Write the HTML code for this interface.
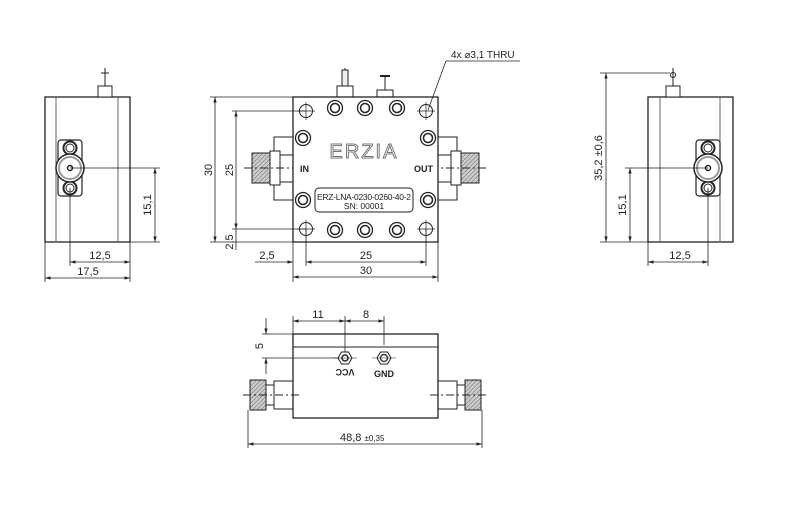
<!DOCTYPE html>
<html><head><style>html,body{margin:0;padding:0;background:#fff}svg{display:block}text{font-family:"Liberation Sans",sans-serif;fill:#222}</style></head>
<body>
<svg width="800" height="516" viewBox="0 0 800 516" xmlns="http://www.w3.org/2000/svg">
<defs>
<marker id="a" viewBox="0 0 10 10" refX="10" refY="5" markerWidth="7" markerHeight="7" orient="auto-start-reverse"><path d="M0,2 L10,5 L0,8z" fill="#222"/></marker>
<pattern id="h" width="3" height="3" patternUnits="userSpaceOnUse" patternTransform="rotate(45)"><rect width="3" height="3" fill="#ccc"/><line x1="0" y1="0" x2="0" y2="3" stroke="#666" stroke-width="1"/></pattern>
<g id="nut"><circle r="7.5" fill="#fff" stroke="#222" stroke-width="1.3"/><circle r="4.5" fill="none" stroke="#222" stroke-width="1.5"/></g>
<g id="hole"><circle r="6.5" fill="#fff" stroke="#222" stroke-width="1"/><line x1="-9" y1="0" x2="9" y2="0" stroke="#222" stroke-width=".7"/><line x1="0" y1="-9" x2="0" y2="9" stroke="#222" stroke-width=".7"/></g>
<g id="sideconn"><rect x="-12" y="-28" width="24" height="56" rx="3" fill="#fff" stroke="#222" stroke-width="1.2"/><circle cx="0" cy="-20" r="6.5" fill="#fff" stroke="#222" stroke-width="2"/><circle cx="0" cy="-20" r="4" fill="none" stroke="#222"/><circle cx="0" cy="20" r="6.5" fill="#fff" stroke="#222" stroke-width="2"/><circle cx="0" cy="20" r="4" fill="none" stroke="#222"/><circle r="14" fill="#fff" stroke="#222" stroke-width="1.5"/><circle r="11" fill="none" stroke="#999" stroke-width="2"/><circle r="2.5" fill="none" stroke="#222" stroke-width="1.5"/></g>
</defs>
<g stroke="#222" fill="none" stroke-width="1">
<!-- LEFT VIEW -->
<rect x="45" y="97" width="85" height="145" stroke-width="1.3"/>
<line x1="56" y1="97" x2="56" y2="242" stroke="#666"/><line x1="118" y1="97" x2="118" y2="242" stroke="#666"/>
<rect x="98" y="86" width="14" height="11" fill="#fff"/><line x1="105" y1="68" x2="105" y2="86"/><line x1="101" y1="73" x2="109" y2="73"/>
</g>
<use href="#sideconn" x="70" y="168"/>
<g stroke="#222" fill="none" stroke-width=".8">
<line x1="70" y1="168" x2="160" y2="168"/><line x1="130" y1="242" x2="160" y2="242"/>
<line x1="155" y1="168" x2="155" y2="242" marker-start="url(#a)" marker-end="url(#a)"/>
<line x1="70" y1="188" x2="70" y2="266"/><line x1="130" y1="242" x2="130" y2="282"/><line x1="45" y1="242" x2="45" y2="282"/>
<line x1="70" y1="262" x2="130" y2="262" marker-start="url(#a)" marker-end="url(#a)"/>
<line x1="45" y1="278" x2="130" y2="278" marker-start="url(#a)" marker-end="url(#a)"/>
</g>
<text x="151" y="205" font-size="11" transform="rotate(-90 151 205)" text-anchor="middle">15,1</text>
<text x="100" y="259" font-size="11" text-anchor="middle">12,5</text>
<text x="88" y="275" font-size="11" text-anchor="middle">17,5</text>

<!-- TOP VIEW -->
<g stroke="#222" fill="none" stroke-width="1">
<line x1="345" y1="68" x2="345" y2="88"/><rect x="342" y="70" width="6" height="16" fill="#eee"/>
<rect x="337" y="86" width="16" height="11" fill="#fff"/>
<line x1="385" y1="76" x2="385" y2="90"/><line x1="380" y1="76" x2="390" y2="76" stroke-width="2"/>
<rect x="377" y="90" width="16" height="7" fill="#fff"/>
<!-- connectors -->
<rect x="274" y="137" width="19" height="18" fill="#fff"/><rect x="274" y="182" width="19" height="18" fill="#fff"/>
<rect x="270" y="151" width="10" height="34" fill="#fff"/>
<rect x="252" y="153" width="18" height="30" fill="url(#h)"/>
<rect x="438" y="137" width="19" height="18" fill="#fff"/><rect x="438" y="182" width="19" height="18" fill="#fff"/>
<rect x="451" y="151" width="10" height="34" fill="#fff"/>
<rect x="461" y="153" width="18" height="30" fill="url(#h)"/>
<line x1="244" y1="168" x2="300" y2="168" stroke-dasharray="8 3 2 3"/>
<line x1="430" y1="168" x2="488" y2="168" stroke-dasharray="8 3 2 3"/>
<rect x="293" y="97" width="145" height="145" stroke-width="1.3" fill="#fff"/>
<rect x="315" y="188" width="98" height="24" rx="4"/>
</g>
<use href="#hole" x="306" y="111"/><use href="#hole" x="426" y="111"/><use href="#hole" x="306" y="229"/><use href="#hole" x="426" y="229"/>
<use href="#nut" x="335" y="108"/><use href="#nut" x="365" y="108"/><use href="#nut" x="397" y="108"/>
<use href="#nut" x="335" y="230"/><use href="#nut" x="365" y="230"/><use href="#nut" x="397" y="230"/>
<use href="#nut" x="303" y="138"/><use href="#nut" x="303" y="200"/><use href="#nut" x="428" y="138"/><use href="#nut" x="428" y="200"/>
<text x="364" y="158" font-size="20" text-anchor="middle" style="fill:#fff;stroke:#777;stroke-width:1;letter-spacing:2px">ERZIA</text>
<text x="300" y="172" font-size="9" font-weight="bold">IN</text>
<text x="433" y="172" font-size="9" font-weight="bold" text-anchor="end">OUT</text>
<text x="364" y="200" font-size="8.5" text-anchor="middle" textLength="94">ERZ-LNA-0230-0260-40-2</text>
<text x="364" y="209" font-size="8.5" text-anchor="middle">SN: 00001</text>
<g stroke="#222" fill="none" stroke-width=".8">
<line x1="520" y1="61" x2="446" y2="61"/><line x1="446" y1="61" x2="428" y2="110"/>
<line x1="210" y1="97" x2="293" y2="97"/><line x1="210" y1="242" x2="293" y2="242"/>
<line x1="232" y1="111" x2="306" y2="111"/><line x1="232" y1="229" x2="306" y2="229"/>
<line x1="215" y1="97" x2="215" y2="242" marker-start="url(#a)" marker-end="url(#a)"/>
<line x1="236" y1="111" x2="236" y2="229" marker-start="url(#a)" marker-end="url(#a)"/>
<line x1="236" y1="229" x2="236" y2="250"/>
<line x1="293" y1="242" x2="293" y2="282"/><line x1="438" y1="242" x2="438" y2="282"/>
<line x1="306" y1="229" x2="306" y2="266"/><line x1="426" y1="229" x2="426" y2="266"/>
<line x1="255" y1="262" x2="293" y2="262" marker-end="url(#a)"/>
<line x1="306" y1="262" x2="426" y2="262" marker-start="url(#a)" marker-end="url(#a)"/>
<line x1="293" y1="277" x2="438" y2="277" marker-start="url(#a)" marker-end="url(#a)"/>
</g>
<text x="451" y="58" font-size="10">4x ⌀3,1 THRU</text>
<text x="212" y="170" font-size="11" transform="rotate(-90 212 170)" text-anchor="middle">30</text>
<text x="233" y="170" font-size="11" transform="rotate(-90 233 170)" text-anchor="middle">25</text>
<text x="233" y="242" font-size="11" transform="rotate(-90 233 242)" text-anchor="middle">2,5</text>
<text x="267" y="259" font-size="11" text-anchor="middle">2,5</text>
<text x="366" y="259" font-size="11" text-anchor="middle">25</text>
<text x="366" y="274" font-size="11" text-anchor="middle">30</text>

<!-- RIGHT VIEW -->
<g stroke="#222" fill="none" stroke-width="1">
<rect x="648" y="97" width="85" height="145" stroke-width="1.3"/>
<line x1="660" y1="97" x2="660" y2="242" stroke="#666"/><line x1="720" y1="97" x2="720" y2="242" stroke="#666"/>
<rect x="666" y="86" width="14" height="11" fill="#fff"/><line x1="673" y1="68" x2="673" y2="86"/><circle cx="673" cy="75" r="2.5"/>
</g>
<use href="#sideconn" x="708" y="168"/>
<g stroke="#222" fill="none" stroke-width=".8">
<line x1="600" y1="73" x2="670" y2="73"/><line x1="600" y1="242" x2="648" y2="242"/>
<line x1="606" y1="73" x2="606" y2="242" marker-start="url(#a)" marker-end="url(#a)"/>
<line x1="625" y1="168" x2="708" y2="168"/>
<line x1="630" y1="168" x2="630" y2="242" marker-start="url(#a)" marker-end="url(#a)"/>
<line x1="648" y1="242" x2="648" y2="266"/><line x1="708" y1="188" x2="708" y2="266"/>
<line x1="648" y1="262" x2="708" y2="262" marker-start="url(#a)" marker-end="url(#a)"/>
</g>
<text x="602" y="158" font-size="11" transform="rotate(-90 602 158)" text-anchor="middle">35,2 ±0,6</text>
<text x="626" y="205" font-size="11" transform="rotate(-90 626 205)" text-anchor="middle">15,1</text>
<text x="680" y="259" font-size="11" text-anchor="middle">12,5</text>

<!-- BOTTOM VIEW -->
<g stroke="#222" fill="none" stroke-width="1">
<rect x="274" y="381" width="19" height="28" fill="#fff"/><rect x="266" y="385" width="8" height="20" fill="#fff"/>
<rect x="250" y="380" width="16" height="30" fill="url(#h)"/>
<rect x="438" y="381" width="19" height="28" fill="#fff"/><rect x="457" y="385" width="8" height="20" fill="#fff"/>
<rect x="465" y="380" width="16" height="30" fill="url(#h)"/>
<rect x="293" y="334" width="145" height="84" stroke-width="1.3" fill="#fff"/>
<line x1="293" y1="347" x2="438" y2="347"/>
<line x1="243" y1="395" x2="300" y2="395" stroke-dasharray="8 3 2 3"/>
<line x1="430" y1="395" x2="488" y2="395" stroke-dasharray="8 3 2 3"/>
<polygon points="338,358 341.5,352 348.5,352 352,358 348.5,364 341.5,364"/><circle cx="345" cy="358" r="3" stroke-width="1.5"/>
<polygon points="377,358 380.5,352 387.5,352 391,358 387.5,364 380.5,364"/><circle cx="384" cy="358" r="3.5" stroke-width="1.3"/>
<line x1="333" y1="358" x2="357" y2="358" stroke-width=".6"/><line x1="372" y1="358" x2="396" y2="358" stroke-width=".6"/>
</g>
<text x="345" y="377" font-size="9" font-weight="bold" text-anchor="middle" transform="rotate(180 345 373)">VCC</text>
<text x="384" y="377" font-size="9" font-weight="bold" text-anchor="middle">GND</text>
<g stroke="#222" fill="none" stroke-width=".8">
<line x1="293" y1="316" x2="293" y2="334"/><line x1="345" y1="316" x2="345" y2="352"/><line x1="384" y1="316" x2="384" y2="345"/>
<line x1="293" y1="321" x2="345" y2="321" marker-start="url(#a)" marker-end="url(#a)"/>
<line x1="345" y1="321" x2="384" y2="321" marker-start="url(#a)" marker-end="url(#a)"/>
<line x1="262" y1="334" x2="293" y2="334"/><line x1="262" y1="358" x2="338" y2="358"/>
<line x1="266" y1="318" x2="266" y2="334" marker-end="url(#a)"/><line x1="266" y1="374" x2="266" y2="358" marker-end="url(#a)"/>
<line x1="248" y1="410" x2="248" y2="448"/><line x1="482" y1="410" x2="482" y2="448"/>
<line x1="248" y1="444" x2="482" y2="444" marker-start="url(#a)" marker-end="url(#a)"/>
</g>
<text x="318" y="318" font-size="11" text-anchor="middle">11</text>
<text x="366" y="318" font-size="11" text-anchor="middle">8</text>
<text x="263" y="346" font-size="11" transform="rotate(-90 263 346)" text-anchor="middle">5</text>
<text x="340" y="441" font-size="11">48,8 <tspan font-size="8">±0,35</tspan></text>
</svg>
</body></html>
